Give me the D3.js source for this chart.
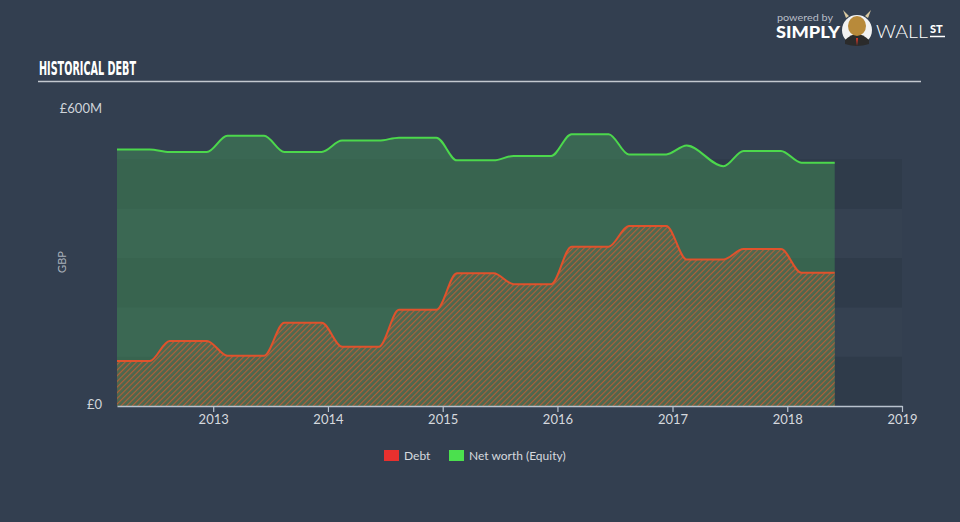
<!DOCTYPE html>
<html>
<head>
<meta charset="utf-8">
<script src="https://cdn.jsdelivr.net/npm/d3@7"></script>
<style>
  html, body { margin: 0; padding: 0; background: #333f50; }
  svg { display: block; }
</style>
</head>
<body>
<svg id="chart" width="960" height="522"></svg>
<script>
// ---- data ----
const pointDates = [
  "2012-03-01", "2012-06-13",
  "2012-08-15", "2012-12-12",
  "2013-02-15", "2013-06-12",
  "2013-08-15", "2013-12-12",
  "2014-02-15", "2014-06-12",
  "2014-08-15", "2014-12-12",
  "2015-02-15", "2015-06-12",
  "2015-08-15", "2015-12-12",
  "2016-02-15", "2016-06-12",
  "2016-08-15", "2016-12-12",
  "2017-02-15", "2017-06-12",
  "2017-08-15", "2017-12-12",
  "2018-02-15", "2018-06-01"
];
// values in £M
const debtValues = [
  91, 91, 132, 132, 102, 102, 169, 169, 120, 120, 195, 195,
  269, 269, 247, 247, 323, 323, 365, 365, 297, 297, 318, 318, 270, 270
];
const equityValues = [
  520, 520, 515, 515, 548, 548, 515, 515, 538, 538, 544, 544,
  498, 498, 507, 507, 551, 551, 510, 510, 528, 486, 517, 517, 493, 493
];
const yTicks = [0, 600];
const yTickLabels = ["£0", "£600M"];
const bandEdges = [0, 100, 200, 300, 400];
const xTickYears = [2013, 2014, 2015, 2016, 2017, 2018, 2019];
const seriesNames = ["Debt", "Net worth (Equity)"];
const seriesColors = ["#e8302e", "#4be04e"];

// ---- chart ----
const svg = d3.select("#chart");
const parse = d3.timeParse("%Y-%m-%d");
const dates = pointDates.map(parse);

const x = d3.scaleTime()
  .domain([parse("2012-03-01"), new Date(2019, 0, 1)])
  .range([117, 902]);
const y = d3.scaleLinear().domain([0, 600]).range([406, 110]);

svg.append("rect").attr("width", 960).attr("height", 522).attr("fill", "#333f50");

// defs: hatch pattern
const defs = svg.append("defs");
const pat = defs.append("pattern")
  .attr("id", "hatch")
  .attr("patternUnits", "userSpaceOnUse")
  .attr("width", 4).attr("height", 4)
  .attr("patternTransform", "rotate(45)");
pat.append("rect").attr("width", 4).attr("height", 4).attr("fill", "#5e6a4c").attr("opacity", 0.55);
pat.append("line")
  .attr("x1", 0).attr("y1", 0).attr("x2", 0).attr("y2", 4)
  .attr("stroke", "#d65a30").attr("stroke-width", 2.2).attr("opacity", 0.75);

// title
svg.append("text")
  .attr("x", 39).attr("y", 75)
  .attr("font-family", "'Liberation Sans Narrow', 'DejaVu Sans Condensed', sans-serif")
  .attr("font-weight", "bold")
  .attr("font-size", 19)
  .attr("fill", "#ffffff")
  .attr("textLength", 97)
  .attr("lengthAdjust", "spacingAndGlyphs")
  .text("HISTORICAL DEBT");
svg.append("line")
  .attr("x1", 38).attr("x2", 921).attr("y1", 81.5).attr("y2", 81.5)
  .attr("stroke", "#c3c8cf").attr("stroke-width", 1.5);

// logo
const logo = svg.append("g");
logo.append("text").attr("x", 777).attr("y", 21)
  .attr("font-family", "Lato, 'Open Sans', sans-serif").attr("font-size", 10)
  .attr("fill", "#b8bec8").attr("textLength", 56).attr("lengthAdjust", "spacingAndGlyphs").text("powered by");
logo.append("text").attr("x", 776).attr("y", 38)
  .attr("font-family", "Lato, 'Open Sans', sans-serif").attr("font-weight", 900).attr("font-size", 16)
  .attr("fill", "#ffffff").attr("textLength", 64).attr("lengthAdjust", "spacingAndGlyphs").text("SIMPLY");
logo.append("circle").attr("cx", 857).attr("cy", 30).attr("r", 15).attr("fill", "#f2f2f2");
logo.append("path").attr("d", "M845,40 Q857,28 869,40 L869,44 Q857,48 845,44 Z").attr("fill", "#2b2b2b");
logo.append("ellipse").attr("cx", 857).attr("cy", 26).attr("rx", 9).attr("ry", 10).attr("fill", "#b88a3a");
logo.append("path").attr("d", "M846,18 L843,10 L849,16 Z M868,18 L871,10 L865,16 Z").attr("fill", "#d9c9a0");
logo.append("path").attr("d", "M856,38 L858,38 L857,46 Z").attr("fill", "#d83a2a");
logo.append("text").attr("x", 876).attr("y", 38)
  .attr("font-family", "Lato, 'Open Sans', sans-serif").attr("font-weight", 300).attr("font-size", 17)
  .attr("fill", "#ffffff").attr("textLength", 52).attr("lengthAdjust", "spacingAndGlyphs").text("WALL");
logo.append("text").attr("x", 930).attr("y", 33)
  .attr("font-family", "Lato, 'Open Sans', sans-serif").attr("font-weight", 900).attr("font-size", 11)
  .attr("fill", "#ffffff").text("ST");
logo.append("line").attr("x1", 930).attr("x2", 945).attr("y1", 36.5).attr("y2", 36.5)
  .attr("stroke", "#ffffff").attr("stroke-width", 1.5);

// background bands (alternating, 0–500)
const bands = svg.append("g");
bandEdges.forEach((b, i) => {
  bands.append("rect")
    .attr("x", x.range()[0]).attr("width", x.range()[1] - x.range()[0])
    .attr("y", y(b + 100)).attr("height", y(b) - y(b + 100))
    .attr("fill", i % 2 === 0 ? "#2f3b4a" : "#354151");
});

// areas
const eqData = dates.map((d, i) => ({ d, v: equityValues[i] }));
const dbData = dates.map((d, i) => ({ d, v: debtValues[i] }));

const area = d3.area().x(p => x(p.d)).y0(y(0)).y1(p => y(p.v)).curve(d3.curveMonotoneX);
const line = d3.line().x(p => x(p.d)).y(p => y(p.v)).curve(d3.curveMonotoneX);

svg.append("path").attr("d", area(eqData))
  .attr("fill", "rgb(71,174,89)").attr("fill-opacity", 0.36);
svg.append("path").attr("d", area(dbData))
  .attr("fill", "url(#hatch)");

svg.append("path").attr("d", line(eqData))
  .attr("fill", "none").attr("stroke", "#4cd84c").attr("stroke-width", 2);
svg.append("path").attr("d", line(dbData))
  .attr("fill", "none").attr("stroke", "#e0522c").attr("stroke-width", 2);

// y labels
yTicks.forEach((t, i) => {
  svg.append("text")
    .attr("x", 102).attr("y", y(t) + 3)
    .attr("text-anchor", "end")
    .attr("font-family", "Lato, 'Open Sans', sans-serif").attr("font-size", 13)
    .attr("fill", "#d0d4da")
    .text(yTickLabels[i]);
});
svg.append("text")
  .attr("transform", "translate(66,262) rotate(-90)")
  .attr("text-anchor", "middle")
  .attr("font-family", "Lato, 'Open Sans', sans-serif").attr("font-size", 11)
  .attr("fill", "#a9b0ba")
  .text("GBP");

// x axis
const xAxis = d3.axisBottom(x)
  .tickValues(xTickYears.map(yr => new Date(yr, 0, 1)))
  .tickFormat(d3.timeFormat("%Y"))
  .tickSize(6)
  .tickSizeOuter(0);
const gx = svg.append("g").attr("transform", "translate(0,406)").call(xAxis);
gx.select(".domain").attr("stroke", "#b9c2ce").attr("stroke-width", 1.5);
gx.selectAll(".tick line").attr("stroke", "#b9c2ce").attr("stroke-width", 1.2);
gx.selectAll(".tick text")
  .attr("fill", "#d6d9de")
  .attr("font-family", "Lato, 'Open Sans', sans-serif")
  .attr("font-size", 13)
  .attr("dy", "0.9em")
  .attr("y", 6);

// legend
const legend = svg.append("g");
const legendX = [384, 449];
seriesNames.forEach((name, i) => {
  legend.append("rect").attr("x", legendX[i]).attr("y", 450).attr("width", 15).attr("height", 11)
    .attr("fill", seriesColors[i]);
  legend.append("text").attr("x", legendX[i] + 20).attr("y", 460)
    .attr("font-family", "Lato, 'Open Sans', sans-serif").attr("font-size", 12)
    .attr("fill", "#d6d9de").text(name);
});
</script>
</body>
</html>
